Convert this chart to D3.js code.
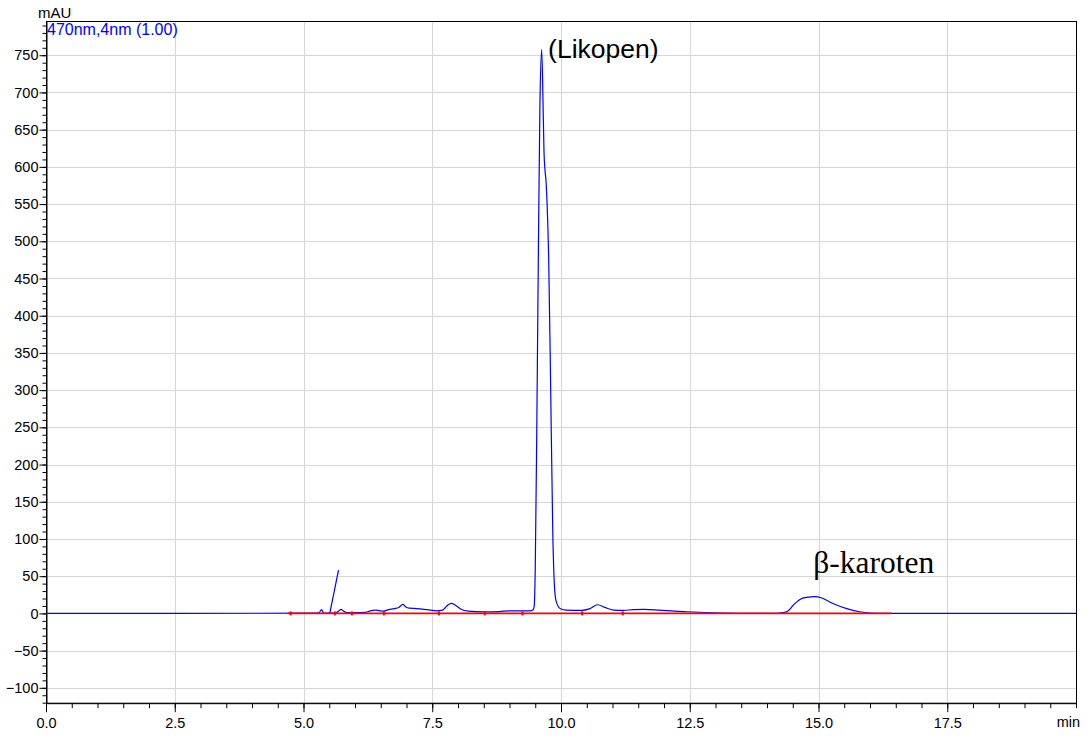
<!DOCTYPE html>
<html>
<head>
<meta charset="utf-8">
<script src="https://cdn.jsdelivr.net/npm/d3@7"></script>
<style>
    body { margin: 0; background: #fff; }
    svg { display: block; font-family: "Liberation Sans", Arial, sans-serif; }
</style>
</head>
<body>
<script>
// chromatogram trace, 470nm
var traceTimes = [0, 5.20, 5.30, 5.35, 5.39, 5.45, 5.52, 5.62, 5.68, 5.73, 5.78, 5.84, 6.00, 6.20, 6.30, 6.39, 6.48, 6.55,
    6.65, 6.76, 6.85, 6.93, 6.98, 7.05, 7.20, 7.40, 7.59, 7.70, 7.80, 7.87, 7.95, 8.05, 8.20, 8.50, 8.80, 9.00, 9.30,
    9.40, 9.46, 9.48, 9.50, 9.53, 9.56, 9.59, 9.625, 9.65, 9.67, 9.69, 9.71, 9.73, 9.76, 9.80, 9.84, 9.87, 9.90, 9.95,
    10.00, 10.10, 10.40, 10.55, 10.71, 10.85, 11.02, 11.20, 11.40, 11.62, 11.90, 12.20, 12.44, 12.80, 13.20, 13.60,
    14.20, 14.30, 14.38, 14.45, 14.51, 14.58, 14.64, 14.77, 14.93, 15.05, 15.20, 15.35, 15.55, 15.80, 16.00, 16.30, 20.00];
var traceValues = [0, 0.3, 0.8, 5.0, 0.5, 0.3, 0.3, 0.5, 3, 5.5, 3, 1, 1, 1.5, 3.5, 4.5, 3.5, 3,
    5, 6.5, 8, 12, 9, 7, 6.5, 5, 3.5, 4.5, 11, 13.4, 11, 6, 3, 2, 2.5, 3.5, 3.5,
    3.5, 5, 10, 60, 250, 480, 680, 758, 690, 620, 595, 580, 550, 480, 300, 110, 40, 18, 9,
    6, 4.5, 4, 6, 11.6, 8, 4.5, 4, 5, 5.5, 4.5, 3, 2.2, 1.2, 0.5, 0.2,
    0.2, 1, 2, 6, 11, 15.5, 18.8, 21.5, 22.4, 21, 16, 11.2, 6.5, 2.2, 0.5, 0, 0];

// injection spike
var spikeTimes = [5.51, 5.68];
var spikeValues = [0, 58];

// integration baseline and its peak marks
var baselineTimes = [4.69, 16.42];
var baselineValues = [0, 0];
var baselineMarks = [4.75, 5.61, 5.94, 6.56, 7.63, 8.52, 9.25, 10.41, 11.2];

var yTicks = d3.range(-100, 751, 50);
var yMinor = d3.range(-120, 791, 10);
var xTicks = [0, 2.5, 5, 7.5, 10, 12.5, 15, 17.5];
var xMinor = d3.range(0, 20.01, 0.5);

var peakLabels = [
    { text: '(Likopen)', t: 9.74, v: 748 },
    { text: 'β-karoten', t: 14.9, v: 54 }
];

(function () {
    var width = 1087,
        height = 736,
        left = 46,
        right = 1076,
        top = 21,
        bottom = 702.7;

    var svg = d3.select('body').append('svg')
        .attr('width', width)
        .attr('height', height);

    var x = d3.scaleLinear().domain([0, 20]).range([left, right]);
    var y = d3.scaleLinear().domain([-120, 796]).range([bottom, top]);

    // grid
    svg.append('g').selectAll('line.gx')
        .data(xTicks.filter(function (d) { return d > 0; }))
        .enter().append('line')
        .attr('x1', function (d) { return Math.round(x(d)) + 0.5; })
        .attr('x2', function (d) { return Math.round(x(d)) + 0.5; })
        .attr('y1', top)
        .attr('y2', bottom)
        .attr('stroke', '#d6d6d6');

    svg.append('g').selectAll('line.gy')
        .data(yTicks)
        .enter().append('line')
        .attr('x1', left)
        .attr('x2', right)
        .attr('y1', function (d) { return Math.round(y(d)) + 0.5; })
        .attr('y2', function (d) { return Math.round(y(d)) + 0.5; })
        .attr('stroke', '#d6d6d6');

    // minor ticks
    svg.append('g')
        .attr('transform', 'translate(' + (left + 0.5) + ',0)')
        .call(d3.axisLeft(y).tickValues(yMinor).tickSize(4).tickFormat(''))
        .call(function (g) { g.select('.domain').remove(); });

    svg.append('g')
        .attr('transform', 'translate(0,' + (bottom + 0.5) + ')')
        .call(d3.axisBottom(x).tickValues(xMinor).tickSize(5).tickFormat(''))
        .call(function (g) { g.select('.domain').remove(); });

    // major axes
    var yAxis = svg.append('g')
        .attr('transform', 'translate(' + (left + 0.5) + ',0)')
        .call(d3.axisLeft(y).tickValues(yTicks).tickSize(7).tickPadding(1).tickSizeOuter(0));

    var xAxis = svg.append('g')
        .attr('transform', 'translate(0,' + (bottom + 0.5) + ')')
        .call(d3.axisBottom(x).tickValues(xTicks).tickSize(9).tickPadding(6).tickSizeOuter(0)
            .tickFormat(d3.format('.1f')));

    [yAxis, xAxis].forEach(function (g) {
        g.selectAll('text')
            .attr('fill', '#000')
            .style('font-size', '14.5px')
            .style('font-family', '"Liberation Sans", Arial, sans-serif');
        g.selectAll('line').attr('stroke', '#000');
    });

    // frame
    svg.append('rect')
        .attr('x', left + 0.5)
        .attr('y', top + 0.5)
        .attr('width', right - left)
        .attr('height', bottom - top)
        .attr('fill', 'none')
        .attr('stroke', '#000');

    var line = d3.line()
        .x(function (d) { return x(d[0]); })
        .y(function (d) { return y(d[1]); });

    var curve = d3.line()
        .x(function (d) { return x(d[0]); })
        .y(function (d) { return y(d[1]); })
        .curve(d3.curveMonotoneX);

    svg.append('path')
        .datum(d3.zip(traceTimes, traceValues))
        .attr('d', curve)
        .attr('fill', 'none')
        .attr('stroke', '#0000ff')
        .attr('stroke-width', 1.2);

    svg.append('path')
        .datum(d3.zip(spikeTimes, spikeValues))
        .attr('d', line)
        .attr('fill', 'none')
        .attr('stroke', '#0000ff')
        .attr('stroke-width', 1.2);

    svg.append('path')
        .datum(d3.zip(baselineTimes, baselineValues))
        .attr('d', line)
        .attr('fill', 'none')
        .attr('stroke', '#ff0000')
        .attr('stroke-width', 1.7);

    svg.append('g').selectAll('rect')
        .data(baselineMarks)
        .enter().append('rect')
        .attr('x', function (d) { return x(d) - 1; })
        .attr('y', y(0) - 2)
        .attr('width', 2)
        .attr('height', 4)
        .attr('fill', '#ff0000');

    // labels
    svg.append('text')
        .attr('x', 38)
        .attr('y', 18)
        .style('font-size', '15px')
        .text('mAU');

    svg.append('text')
        .attr('x', 47)
        .attr('y', 35)
        .attr('fill', '#0000ff')
        .style('font-size', '16px')
        .text('470nm,4nm (1.00)');

    svg.append('text')
        .attr('x', 1080)
        .attr('y', 727)
        .attr('text-anchor', 'end')
        .style('font-size', '14.5px')
        .text('min');

    svg.append('text')
        .attr('x', x(peakLabels[0].t) + 0.5)
        .attr('y', y(peakLabels[0].v) + 1)
        .style('font-size', '26.5px')
        .text(peakLabels[0].text);

    svg.append('text')
        .attr('x', x(peakLabels[1].t))
        .attr('y', y(peakLabels[1].v))
        .style('font-family', '"Liberation Serif", "Times New Roman", serif')
        .style('font-size', '31.5px')
        .text(peakLabels[1].text);
}());
</script>
</body>
</html>
